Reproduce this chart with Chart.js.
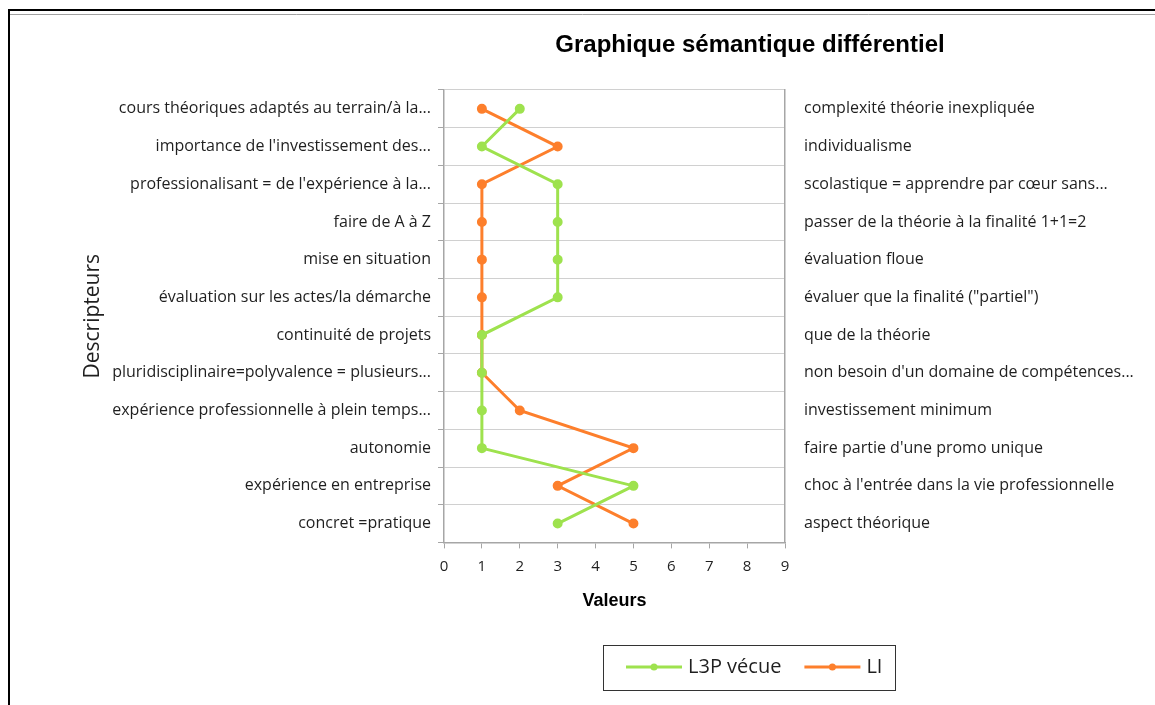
<!DOCTYPE html>
<html lang="fr">
<head>
<meta charset="utf-8">
<title>Graphique sémantique différentiel</title>
<script src="https://cdn.jsdelivr.net/npm/chart.js@4.4.1/dist/chart.umd.min.js"></script>
<style>
  html, body { margin: 0; padding: 0; background: #fff; }
  #wrap { width: 1155px; height: 705px; }
</style>
</head>
<body>
<div id="wrap"><canvas id="chart" width="1155" height="705"></canvas></div>
<script>
// Descriptors (left) and their opposite poles (right), top to bottom
const descripteurs = [
    "cours théoriques adaptés au terrain/à la...",
    "importance de l'investissement des...",
    "professionalisant = de l'expérience à la...",
    "faire de A à Z",
    "mise en situation",
    "évaluation sur les actes/la démarche",
    "continuité de projets",
    "pluridisciplinaire=polyvalence = plusieurs...",
    "expérience professionnelle à plein temps...",
    "autonomie",
    "expérience en entreprise",
    "concret =pratique"
];
const opposes = [
    "complexité théorie inexpliquée",
    "individualisme",
    "scolastique = apprendre par cœur sans...",
    "passer de la théorie à la finalité 1+1=2",
    "évaluation floue",
    "évaluer que la finalité (\"partiel\")",
    "que de la théorie",
    "non besoin d'un domaine de compétences...",
    "investissement minimum",
    "faire partie d'une promo unique",
    "choc à l'entrée dans la vie professionnelle",
    "aspect théorique"
];
const l3pVecue = [2, 1, 3, 3, 3, 3, 1, 1, 1, 1, 5, 3];
const li = [1, 3, 1, 1, 1, 1, 1, 1, 2, 5, 3, 5];
const valeurMin = 0;
const valeurMax = 9;

const GREEN = "#9ee24e";
const ORANGE = "#fd7f2c";
const FONT = "'Open Sans', Lato, sans-serif";
const TEXT = "#1f1f1f";

// white page with the black outer frame
const framePlugin = {
    id: "frame",
    beforeDraw(chart) {
        const ctx = chart.ctx;
        ctx.save();
        ctx.fillStyle = "#fff";
        ctx.fillRect(0, 0, chart.width, chart.height);
        ctx.strokeStyle = "#000";
        ctx.lineWidth = 2;
        ctx.beginPath();
        ctx.moveTo(1155, 10);
        ctx.lineTo(9, 10);
        ctx.lineTo(9, 705);
        ctx.stroke();
        ctx.strokeStyle = "#a0a0a0";
        ctx.lineWidth = 1;
        ctx.beginPath();
        ctx.moveTo(10, 14.5);
        ctx.lineTo(1155, 14.5);
        ctx.stroke();
        ctx.restore();
    }
};

// chart title, offset to the right like the original sheet
const titlePlugin = {
    id: "sheetTitle",
    afterDraw(chart) {
        const ctx = chart.ctx;
        ctx.save();
        ctx.font = "bold 24px 'Liberation Sans', Arial, sans-serif";
        ctx.fillStyle = "#000";
        ctx.textAlign = "center";
        ctx.textBaseline = "middle";
        ctx.fillText("Graphique sémantique différentiel", 750, 45);
        ctx.restore();
    }
};

// boxed legend with line + dot markers
const boxLegendPlugin = {
    id: "boxLegend",
    afterDraw(chart) {
        const ctx = chart.ctx;
        ctx.save();
        ctx.strokeStyle = "#333";
        ctx.lineWidth = 1;
        ctx.strokeRect(603.5, 645.5, 292, 45);
        ctx.font = "20px " + FONT;
        ctx.textBaseline = "middle";
        const y = 667;
        let x = 626;
        chart.data.datasets.forEach((ds) => {
            ctx.strokeStyle = ds.borderColor;
            ctx.lineWidth = 3;
            ctx.beginPath();
            ctx.moveTo(x, y);
            ctx.lineTo(x + 56, y);
            ctx.stroke();
            ctx.fillStyle = ds.borderColor;
            ctx.beginPath();
            ctx.arc(x + 28, y, 3.5, 0, Math.PI * 2);
            ctx.fill();
            ctx.fillStyle = TEXT;
            ctx.fillText(ds.label, x + 62, y);
            x += 62 + ctx.measureText(ds.label).width + 23;
        });
        ctx.restore();
    }
};

new Chart(document.getElementById("chart"), {
    type: "line",
    data: {
        labels: descripteurs,
        datasets: [
            {
                label: "L3P vécue",
                data: l3pVecue,
                borderColor: GREEN,
                backgroundColor: GREEN,
                borderWidth: 3,
                pointRadius: 3.5,
                pointHoverRadius: 3.5,
                yAxisID: "y"
            },
            {
                label: "LI",
                data: li,
                borderColor: ORANGE,
                backgroundColor: ORANGE,
                borderWidth: 3,
                pointRadius: 3.5,
                pointHoverRadius: 3.5,
                yAxisID: "y"
            }
        ]
    },
    options: {
        responsive: false,
        animation: false,
        indexAxis: "y",
        layout: { padding: { left: 76, right: 0, top: 90, bottom: 93 } },
        plugins: {
            legend: { display: false },
            tooltip: { enabled: false }
        },
        scales: {
            x: {
                type: "linear",
                min: valeurMin,
                max: valeurMax,
                ticks: { stepSize: 1, color: TEXT, font: { family: FONT, size: 15 }, padding: 9 },
                grid: { drawOnChartArea: false, tickLength: 6, color: "#a6a6a6" },
                border: { color: "#a6a6a6", width: 1.5 },
                title: {
                    display: true,
                    text: "Valeurs",
                    color: "#000",
                    font: { family: "'Liberation Sans', Arial, sans-serif", size: 18, weight: "bold" },
                    padding: { top: 6, bottom: 0 }
                }
            },
            y: {
                type: "category",
                position: "left",
                offset: true,
                ticks: { color: TEXT, font: { family: FONT, size: 16 }, padding: 7, autoSkip: false },
                grid: { offset: true, color: "#d0d0d0", tickLength: 6, tickColor: "#a6a6a6" },
                border: { color: "#a6a6a6", width: 1.5 },
                title: {
                    display: true,
                    text: "Descripteurs",
                    color: TEXT,
                    font: { family: FONT, size: 21 },
                    padding: { top: 4, bottom: 4 }
                },
                afterFit(scale) { scale.width = 444 - 76; }
            },
            y2: {
                type: "category",
                position: "right",
                labels: opposes,
                offset: true,
                ticks: { color: TEXT, font: { family: FONT, size: 16 }, padding: 19, autoSkip: false },
                grid: { display: false, drawTicks: false },
                border: { color: "#a6a6a6", width: 1.5 },
                afterFit(scale) { scale.width = 1155 - 785; }
            }
        }
    },
    plugins: [framePlugin, titlePlugin, boxLegendPlugin]
});
</script>
</body>
</html>
